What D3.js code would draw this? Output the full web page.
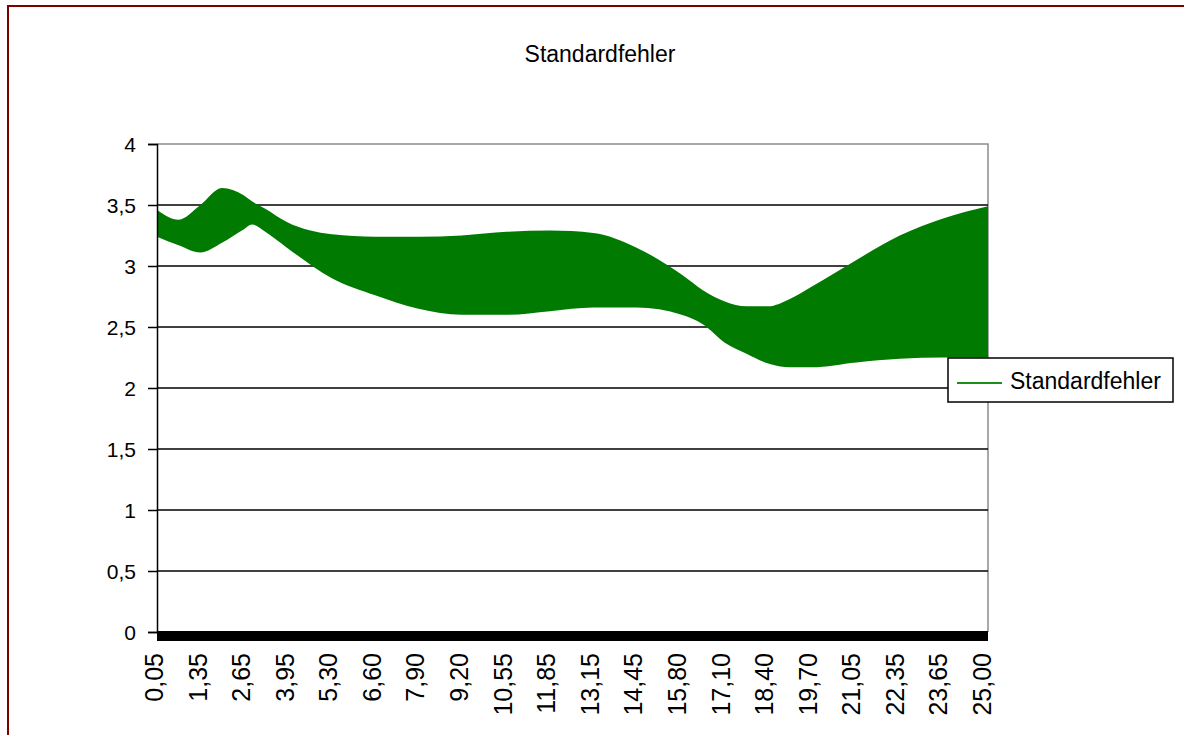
<!DOCTYPE html>
<html>
<head>
<meta charset="utf-8">
<script src="https://cdn.jsdelivr.net/npm/d3@7"></script>
<style>
  body { margin: 0; background: #fff; }
  text { font-family: "Liberation Sans", Arial, sans-serif; fill: #000; }
</style>
</head>
<body>
<svg width="1184" height="735"></svg>
<script>
// sample points along the x axis (numeric label values)
var xVals = [0.05, 0.70, 1.35, 2.00, 2.65, 2.90, 3.30, 3.95, 5.30, 6.60, 7.90, 9.20, 10.55, 11.85,
             13.15, 14.45, 15.80, 16.45, 17.10, 17.75, 18.40, 19.05, 19.70, 21.05, 22.35, 23.65, 25.00];
// the series swings so fast that it reads as a band: top and bottom of that band
var upper = [3.46, 3.38, 3.50, 3.64, 3.58, 3.53, 3.47, 3.36, 3.26, 3.24, 3.24, 3.25, 3.28, 3.29,
             3.27, 3.15, 2.93, 2.80, 2.71, 2.67, 2.67, 2.73, 2.83, 3.05, 3.25, 3.39, 3.49];
var lower = [3.24, 3.17, 3.11, 3.19, 3.30, 3.34, 3.28, 3.15, 2.90, 2.76, 2.65, 2.60, 2.60, 2.63,
             2.66, 2.66, 2.60, 2.52, 2.37, 2.28, 2.20, 2.17, 2.17, 2.21, 2.24, 2.25, 2.25];
var xLabels = ['0,05','1,35','2,65','3,95','5,30','6,60','7,90','9,20','10,55','11,85',
               '13,15','14,45','15,80','17,10','18,40','19,70','21,05','22,35','23,65','25,00'];
var yTicks = [0, 0.5, 1, 1.5, 2, 2.5, 3, 3.5, 4];
var seriesName = 'Standardfehler';

var svg = d3.select('svg'),
    pl = 157, pr = 988, pt = 144, pb = 632;

var band = xVals.map(function(d, i) { return {x: d, hi: upper[i], lo: lower[i]}; });

var x = d3.scaleLinear().domain([0.05, 25]).range([pl, pr]),
    xl = d3.scalePoint().domain(xLabels).range([pl - 3, pr - 6]),
    y = d3.scaleLinear().domain([0, 4]).range([pb, pt]);

// outer frame
svg.append('rect')
  .attr('x', 8).attr('y', 6).attr('width', 1200).attr('height', 760)
  .attr('fill', 'none').attr('stroke', '#7b0000').attr('stroke-width', 2);

// title
svg.append('text')
  .attr('x', 600).attr('y', 62)
  .attr('text-anchor', 'middle')
  .style('font-size', '23px')
  .text(seriesName);

// plot border (gray, top + right)
svg.append('path')
  .attr('d', 'M' + pl + ',' + pt + 'H' + pr + 'V' + pb)
  .attr('fill', 'none').attr('stroke', '#8c8c8c').attr('stroke-width', 1.5);

// grid lines
svg.selectAll('.grid')
  .data(yTicks.filter(function(d) { return d > 0 && d < 4; }))
  .enter().append('line')
  .attr('class', 'grid')
  .attr('x1', pl).attr('x2', pr)
  .attr('y1', function(d) { return y(d); })
  .attr('y2', function(d) { return y(d); })
  .attr('stroke', '#000').attr('stroke-width', 1.5);

// the band
var area = d3.area()
  .x(function(d) { return x(d.x); })
  .y0(function(d) { return y(d.lo); })
  .y1(function(d) { return y(d.hi); })
  .curve(d3.curveMonotoneX);

svg.append('path')
  .datum(band)
  .attr('d', area)
  .attr('fill', '#007a00');

// y axis
var yAxis = svg.append('g')
  .attr('transform', 'translate(' + pl + ',0)')
  .call(d3.axisLeft(y).tickValues(yTicks).tickSize(9).tickPadding(12)
    .tickFormat(function(d) { return String(d).replace('.', ','); }));
yAxis.select('.domain').attr('stroke', '#000').attr('stroke-width', 1.5);
yAxis.selectAll('line').attr('stroke', '#000').attr('stroke-width', 1.5);
yAxis.selectAll('text')
  .attr('font-family', null)
  .attr('dy', '0.35em')
  .style('font-size', '21px');

// x axis: dense category ticks merge into a thick black bar
svg.append('rect')
  .attr('x', x(0.05)).attr('y', pb - 1)
  .attr('width', x(25) - x(0.05)).attr('height', 10)
  .attr('fill', '#000');

svg.selectAll('.xlab')
  .data(xLabels)
  .enter().append('text')
  .attr('class', 'xlab')
  .attr('transform', function(d) { return 'translate(' + xl(d) + ',653) rotate(-90)'; })
  .attr('text-anchor', 'end')
  .attr('dy', '0.36em')
  .style('font-size', '25px')
  .text(function(d) { return d; });

// legend
var lg = svg.append('g').attr('transform', 'translate(948,358)');
lg.append('rect')
  .attr('width', 225).attr('height', 44)
  .attr('fill', '#fff').attr('stroke', '#000').attr('stroke-width', 1.5);
lg.append('line')
  .attr('x1', 9).attr('x2', 54).attr('y1', 25).attr('y2', 25)
  .attr('stroke', '#1a8f1a').attr('stroke-width', 2);
lg.append('text')
  .attr('x', 62).attr('y', 31)
  .style('font-size', '23px')
  .text(seriesName);
</script>
</body>
</html>
